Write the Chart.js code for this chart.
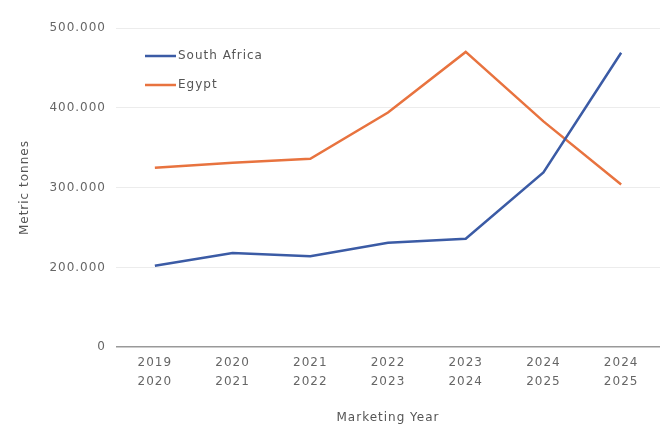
<!DOCTYPE html>
<html>
<head>
<meta charset="utf-8">
<script src="https://cdn.jsdelivr.net/npm/chart.js@4"></script>
<style>
  html, body { margin: 0; padding: 0; background: #fff; }
  #wrap { width: 660px; height: 426px; }
</style>
</head>
<body>
<div id="wrap"><canvas id="yearChart"></canvas></div>
<script>
const marketingYears = [
    ['2019', '2020'], ['2020', '2021'], ['2021', '2022'], ['2022', '2023'],
    ['2023', '2024'], ['2024', '2025'], ['2024', '2025']
];
const southAfrica = [202000, 218000, 214000, 231000, 236000, 319000, 469000];
const egypt = [325000, 331000, 336000, 394000, 470000, 383000, 304000];
const yTicks = [100000, 200000, 300000, 400000, 500000];
const yTickLabels = ['0', '200.000', '300.000', '400.000', '500.000'];

const textColor = '#666';
const fontFamily = "'DejaVu Sans', sans-serif";

// stretch the text a bit, like in the picture
const spacingPlugin = {
    id: 'spacing',
    beforeLayout(chart) { chart.ctx.letterSpacing = '1px'; },
    beforeDraw(chart) { chart.ctx.letterSpacing = '1px'; }
};

// legend sits inside the plot, top left
const innerLegend = {
    id: 'innerLegend',
    afterDraw(chart) {
        const ctx = chart.ctx;
        ctx.save();
        ctx.font = '12px ' + fontFamily;
        ctx.textBaseline = 'middle';
        chart.data.datasets.forEach((ds, i) => {
            const y = 56 + i * 29;
            ctx.strokeStyle = ds.borderColor;
            ctx.lineWidth = 2.5;
            ctx.beginPath();
            ctx.moveTo(145, y);
            ctx.lineTo(176, y);
            ctx.stroke();
            ctx.fillStyle = '#555';
            ctx.fillText(ds.label, 178, y);
        });
        ctx.restore();
    }
};

new Chart(document.getElementById('yearChart'), {
    type: 'line',
    data: {
        labels: marketingYears,
        datasets: [
            {
                label: 'South Africa',
                data: southAfrica,
                borderColor: '#3b5ba5',
                borderWidth: 2.5,
                pointRadius: 0,
                tension: 0
            },
            {
                label: 'Egypt',
                data: egypt,
                borderColor: '#e8733f',
                borderWidth: 2.5,
                pointRadius: 0,
                tension: 0
            }
        ]
    },
    options: {
        responsive: true,
        maintainAspectRatio: false,
        animation: false,
        layout: { padding: { top: 28, right: 0, left: 18, bottom: 0 } },
        plugins: {
            legend: { display: false },
            tooltip: { enabled: false }
        },
        scales: {
            x: {
                offset: true,
                grid: { display: false, drawTicks: false },
                border: { display: false },
                ticks: {
                    color: textColor,
                    font: { family: fontFamily, size: 12, lineHeight: 1.6 },
                    padding: 6,
                    maxRotation: 0
                },
                title: {
                    display: true,
                    text: 'Marketing Year',
                    color: '#555',
                    font: { family: fontFamily, size: 12 },
                    padding: { top: 13, bottom: 1 }
                }
            },
            y: {
                min: yTicks[0],
                max: yTicks[yTicks.length - 1],
                afterBuildTicks(scale) {
                    scale.ticks = yTicks.map(v => ({ value: v }));
                },
                afterFit(scale) { scale.width = 98; },
                grid: {
                    drawTicks: false,
                    color: ctx => ctx.tick.value === yTicks[0] ? '#999' : '#ececec',
                    lineWidth: ctx => ctx.tick.value === yTicks[0] ? 1.5 : 1
                },
                border: { display: false },
                ticks: {
                    color: textColor,
                    font: { family: fontFamily, size: 12 },
                    padding: 10,
                    callback: (v) => yTickLabels[yTicks.indexOf(v)]
                },
                title: {
                    display: true,
                    text: 'Metric tonnes',
                    color: '#555',
                    font: { family: fontFamily, size: 12 },
                    padding: 0
                }
            }
        }
    },
    plugins: [spacingPlugin, innerLegend]
});
</script>
</body>
</html>
